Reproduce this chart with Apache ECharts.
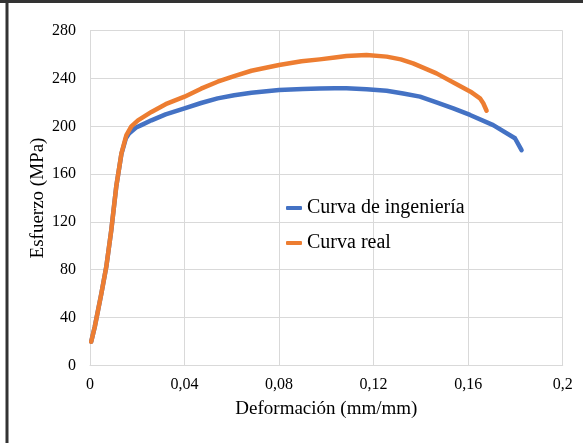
<!DOCTYPE html>
<html>
<head>
<meta charset="utf-8">
<script src="https://cdn.jsdelivr.net/npm/echarts@6/dist/echarts.min.js"></script>
<style>
html,body{margin:0;padding:0;background:#fff;}
#chart{width:583px;height:443px;}
</style>
</head>
<body>
<div id="chart"></div>
<script>
// Data
const engStrain = [0.0005, 0.002, 0.0048, 0.0069, 0.009, 0.0111, 0.0133, 0.0152, 0.0165, 0.0195, 0.0217, 0.026, 0.032, 0.04, 0.047, 0.054, 0.061, 0.0683, 0.08, 0.09, 0.0972, 0.1036, 0.1085, 0.117, 0.1255, 0.1325, 0.1396, 0.1466, 0.1537, 0.1608, 0.1706, 0.1798, 0.1826];
const engStress = [19.7, 32, 60, 82.5, 113, 149.5, 177, 190, 194, 199, 201, 205, 210, 215, 219.5, 223.4, 226, 228, 230.4, 231.3, 231.6, 231.8, 231.8, 231, 229.8, 227.5, 224.8, 220, 215, 209.5, 201, 190, 180];

const realStrain = [0.0005, 0.002, 0.0048, 0.0069, 0.009, 0.0111, 0.0133, 0.0154, 0.0175, 0.0203, 0.026, 0.032, 0.04, 0.047, 0.054, 0.061, 0.0683, 0.08, 0.0895, 0.0972, 0.1036, 0.1085, 0.117, 0.1255, 0.1315, 0.1367, 0.1466, 0.1565, 0.161, 0.165, 0.1664, 0.1678];
const realStress = [19.7, 32, 60, 82.5, 113, 149.5, 177.4, 192.7, 200, 205, 212, 218.5, 224.8, 231.5, 237.3, 242, 246.5, 251.3, 254.5, 256, 257.5, 258.8, 259.7, 258.3, 256, 252.7, 244.3, 233.7, 229, 223.4, 219.3, 213];

const seriesNames = ['Curva de ingeniería', 'Curva real'];
const xTickLabels = ['0', '0,04', '0,08', '0,12', '0,16', '0,2'];
const yTickLabels = ['0', '40', '80', '120', '160', '200', '240', '280'];

const zip = (xs, ys) => xs.map((x, i) => [x, ys[i]]);
const FONT = '"Liberation Serif", "DejaVu Serif", serif';

const chart = echarts.init(document.getElementById('chart'));
chart.setOption({
  animation: false,
  backgroundColor: '#fff',
  textStyle: { fontFamily: FONT },
  graphic: [
    { type: 'rect', shape: { x: 0, y: 0, width: 583, height: 3 }, style: { fill: '#333' }, z: 100 },
    { type: 'rect', shape: { x: 5.5, y: 0, width: 3, height: 443 }, style: { fill: '#333' }, z: 100 }
  ],
  grid: { left: 90, right: 20.3, top: 30.7, bottom: 77.7, containLabel: false },
  legend: {
    orient: 'vertical',
    left: 286,
    top: 198,
    padding: 0,
    itemGap: 15,
    itemWidth: 16,
    itemHeight: 4,
    icon: 'roundRect',
    textStyle: { fontFamily: FONT, fontSize: 20, color: '#000', lineHeight: 20 },
    data: seriesNames
  },
  xAxis: {
    type: 'value',
    min: 0, max: 0.2, interval: 0.04,
    name: 'Deformación (mm/mm)',
    nameLocation: 'middle',
    nameGap: 34,
    nameTextStyle: { fontFamily: FONT, fontSize: 19, color: '#000' },
    axisLine: { show: true, lineStyle: { color: '#d9d9d9', width: 1 } },
    axisTick: { show: false },
    splitLine: { show: true, lineStyle: { color: '#d9d9d9', width: 1 } },
    axisLabel: {
      fontFamily: FONT, fontSize: 16, color: '#000', margin: 11,
      formatter: v => xTickLabels[Math.round(v / 0.04)]
    }
  },
  yAxis: {
    type: 'value',
    min: 0, max: 280, interval: 40,
    name: 'Esfuerzo (MPa)',
    nameLocation: 'middle',
    nameGap: 42,
    nameMoveOverlap: false,
    nameTextStyle: { fontFamily: FONT, fontSize: 19, color: '#000' },
    axisLine: { show: true, lineStyle: { color: '#d9d9d9', width: 1 } },
    axisTick: { show: false },
    splitLine: { show: true, lineStyle: { color: '#d9d9d9', width: 1 } },
    axisLabel: {
      fontFamily: FONT, fontSize: 16, color: '#000', margin: 14,
      formatter: v => yTickLabels[Math.round(v / 40)]
    }
  },
  series: [
    {
      name: seriesNames[0], type: 'line', data: zip(engStrain, engStress),
      showSymbol: false, symbol: 'none', smooth: false,
      itemStyle: { color: '#4472C4' },
      lineStyle: { color: '#4472C4', width: 4.5, cap: 'round', join: 'round' }
    },
    {
      name: seriesNames[1], type: 'line', data: zip(realStrain, realStress),
      showSymbol: false, symbol: 'none', smooth: false,
      itemStyle: { color: '#ED7D31' },
      lineStyle: { color: '#ED7D31', width: 4.5, cap: 'round', join: 'round' }
    }
  ]
});
</script>
</body>
</html>
